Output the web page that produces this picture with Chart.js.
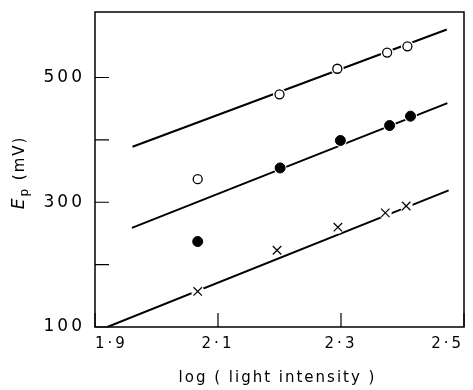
<!DOCTYPE html>
<html>
<head>
<meta charset="utf-8">
<script src="https://cdn.jsdelivr.net/npm/chart.js@4"></script>
<style>
  body { margin: 0; background: #fff; }
  canvas { display: block; }
</style>
</head>
<body>
<canvas id="epChart" width="473" height="390"></canvas>
<script>
// open circles
const openX = [2.067, 2.200, 2.294, 2.375, 2.408];
const openY = [337, 473, 514, 540, 550];
// filled circles
const filledX = [2.067, 2.201, 2.299, 2.379, 2.413];
const filledY = [237, 355, 399, 423, 438];
// crosses
const crossX = [2.067, 2.196, 2.295, 2.372, 2.406];
const crossY = [157, 223, 260, 283, 294];

// fitted lines (end points)
const topLineX = [1.961, 2.472], topLineY = [389, 577];
const midLineX = [1.960, 2.473], midLineY = [259, 459];
const lowLineX = [1.920, 2.475], lowLineY = [100, 319];

const xTicks = [1.9, 2.1, 2.3, 2.5];
const yTicks = [100, 200, 300, 400, 500];
const yLabelled = [100, 300, 500];
const xTitle = 'log ( light intensity )';

function pts(xs, ys) {
    return xs.map((x, i) => ({ x: x, y: ys[i] }));
}

function fitLine(xs, ys) {
    return {
        type: 'line', data: pts(xs, ys), order: 5,
        borderColor: '#000', borderWidth: 2, pointRadius: 0, fill: false
    };
}

function halo(xs, ys) {
    return {
        data: pts(xs, ys), order: 3, pointRadius: 6.5, pointBorderWidth: 0,
        pointBackgroundColor: '#fff', pointStyle: 'circle'
    };
}

// inward ticks, frame box and axis titles
const frame = {
    id: 'frame',
    beforeDraw(chart) {
        chart.ctx.letterSpacing = '3px';
    },
    afterDraw(chart) {
        const ctx = chart.ctx, a = chart.chartArea;
        const xs = chart.scales.x, ys = chart.scales.y;
        ctx.save();
        ctx.letterSpacing = '0px';
        ctx.strokeStyle = '#000';
        ctx.lineWidth = 1.5;
        ctx.beginPath();
        ctx.rect(a.left, a.top, a.right - a.left, a.bottom - a.top);
        ctx.stroke();
        ctx.lineWidth = 1.2;
        ctx.beginPath();
        xTicks.forEach(v => {
            const px = xs.getPixelForValue(v);
            ctx.moveTo(px, a.bottom);
            ctx.lineTo(px, a.bottom - 14);
        });
        yTicks.forEach(v => {
            const py = ys.getPixelForValue(v);
            ctx.moveTo(a.left, py);
            ctx.lineTo(a.left + 14, py);
        });
        ctx.stroke();

        ctx.fillStyle = '#000';
        ctx.textBaseline = 'middle';

        // x title
        ctx.letterSpacing = '2px';
        ctx.font = '15px "DejaVu Sans"';
        ctx.textAlign = 'center';
        ctx.fillText(xTitle, (a.left + a.right) / 2 - 2, 378);

        // y title: E_p (mV)
        ctx.textAlign = 'left';
        ctx.translate(20, (a.top + a.bottom) / 2 + 3);
        ctx.rotate(-Math.PI / 2);
        const parts = [
            { t: 'E', f: 'italic 17px "DejaVu Sans"', dy: 0 },
            { t: 'p', f: '12px "DejaVu Sans"', dy: 5 },
            { t: ' (mV)', f: '15px "DejaVu Sans"', dy: 0 }
        ];
        let w = 0;
        parts.forEach(p => { ctx.font = p.f; w += ctx.measureText(p.t).width; });
        let cx = -w / 2;
        parts.forEach(p => {
            ctx.font = p.f;
            ctx.fillText(p.t, cx, p.dy);
            cx += ctx.measureText(p.t).width;
        });
        ctx.restore();
    }
};

let ctx = document.getElementById('epChart').getContext('2d');
new Chart(ctx, {
    type: 'scatter',
    data: {
        datasets: [
            fitLine(topLineX, topLineY),
            fitLine(midLineX, midLineY),
            fitLine(lowLineX, lowLineY),
            halo(openX.slice(1), openY.slice(1)),
            halo(filledX.slice(1), filledY.slice(1)),
            halo(crossX, crossY),
            {
                data: pts(openX, openY), order: 1, pointStyle: 'circle',
                pointRadius: 4.5, pointBorderWidth: 1.3,
                pointBackgroundColor: '#fff', pointBorderColor: '#000'
            },
            {
                data: pts(filledX, filledY), order: 1, pointStyle: 'circle',
                pointRadius: 5, pointBorderWidth: 1,
                pointBackgroundColor: '#000', pointBorderColor: '#000'
            },
            {
                data: pts(crossX, crossY), order: 1, pointStyle: 'crossRot',
                pointRadius: 6, pointBorderWidth: 1.2,
                pointBorderColor: '#000'
            }
        ]
    },
    options: {
        responsive: false,
        animation: false,
        layout: { padding: { top: 12, right: 9, left: 0, bottom: 0 } },
        plugins: { legend: { display: false }, tooltip: { enabled: false } },
        scales: {
            x: {
                type: 'linear', min: 1.9, max: 2.5,
                afterBuildTicks: s => { s.ticks = xTicks.map(v => ({ value: v })); },
                afterFit: s => { s.height = 63; s.paddingLeft = 0; s.paddingRight = 0; },
                grid: { display: false, drawTicks: false },
                border: { display: false },
                ticks: {
                    color: '#000', padding: 8, align: 'inner',
                    font: { family: 'DejaVu Sans', size: 15 },
                    callback: v => v.toFixed(1).replace('.', '·')
                }
            },
            y: {
                type: 'linear', min: 100, max: 605,
                afterBuildTicks: s => { s.ticks = yTicks.map(v => ({ value: v })); },
                afterFit: s => { s.width = 95; s.paddingTop = 0; s.paddingBottom = 0; },
                grid: { display: false, drawTicks: false },
                border: { display: false },
                ticks: {
                    color: '#000', padding: 10,
                    font: { family: 'DejaVu Sans', size: 17 },
                    callback: v => yLabelled.includes(v) ? String(v) : ''
                }
            }
        }
    },
    plugins: [frame]
});
</script>
</body>
</html>
